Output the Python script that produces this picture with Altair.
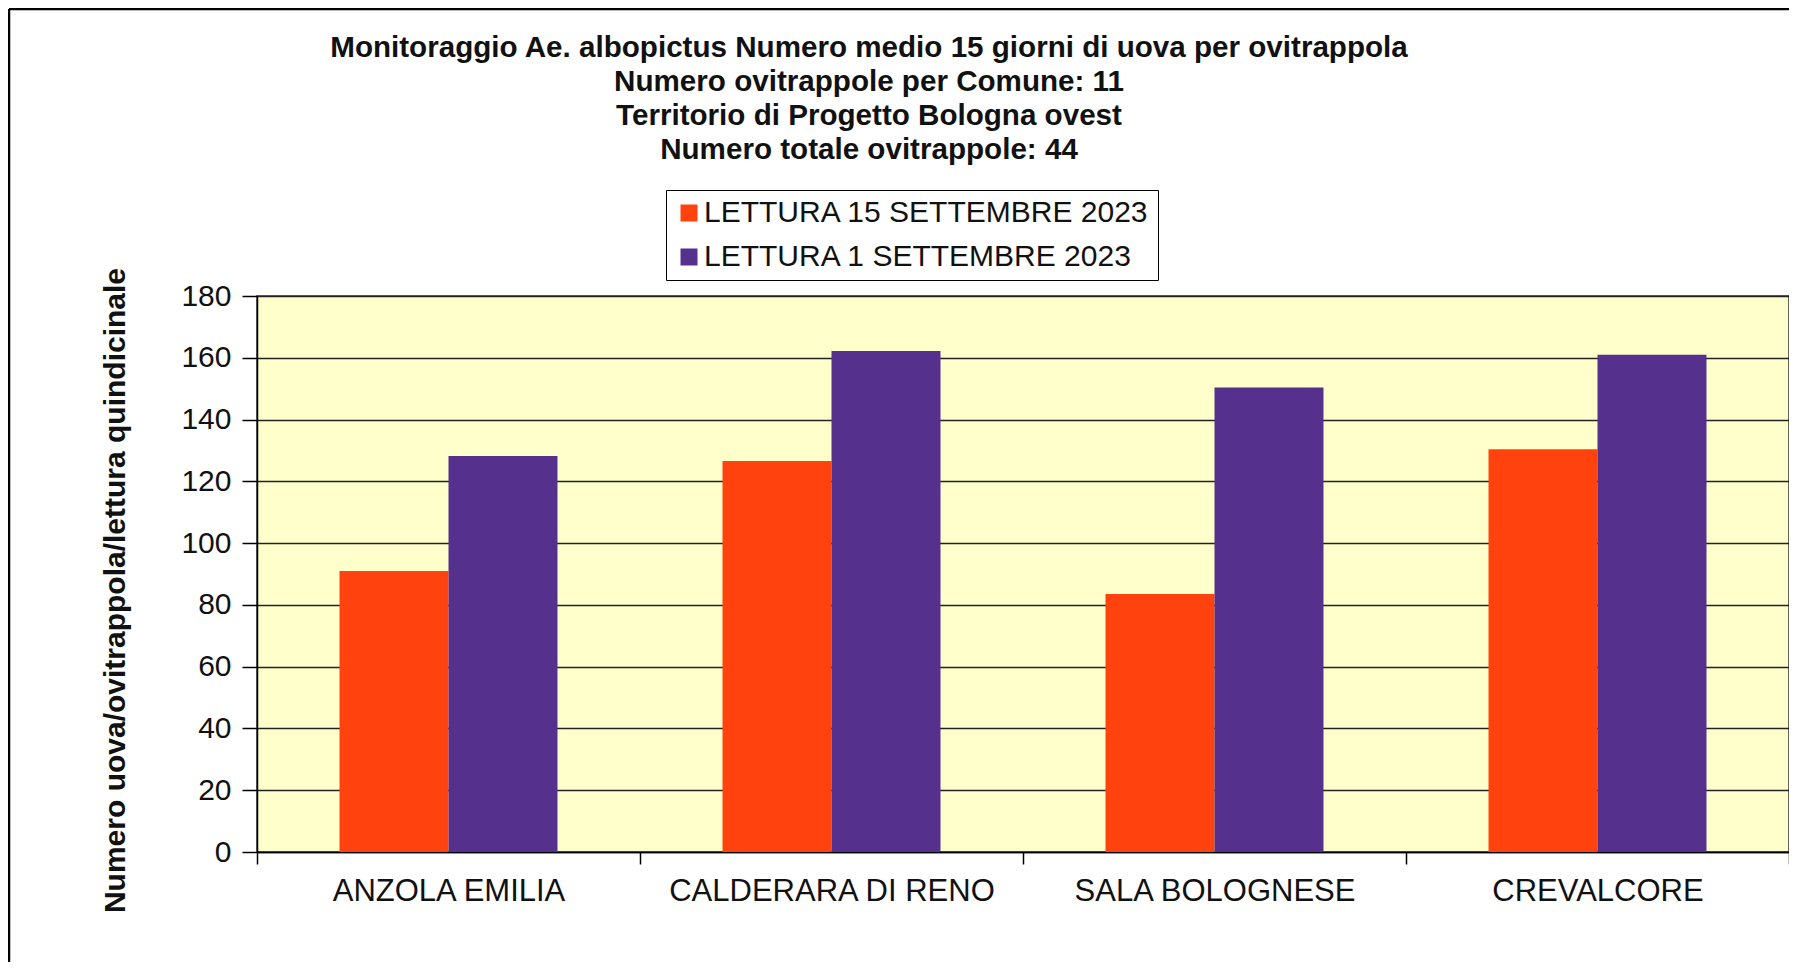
import altair as alt
import pandas as pd

comuni = ["ANZOLA EMILIA", "CALDERARA DI RENO", "SALA BOLOGNESE", "CREVALCORE"]
serie = ["LETTURA 15 SETTEMBRE 2023", "LETTURA 1 SETTEMBRE 2023"]
lettura_15_set = [91.0, 126.6, 83.5, 130.4]
lettura_1_set = [128.2, 162.2, 150.4, 161.0]
colori = ["#FF420E", "#55308D"]
y_ticks = [0, 20, 40, 60, 80, 100, 120, 140, 160, 180]
titolo = [
    "Monitoraggio Ae. albopictus Numero medio 15 giorni di uova per ovitrappola",
    "Numero ovitrappole per Comune: 11",
    "Territorio di Progetto Bologna ovest",
    "Numero totale ovitrappole: 44",
]
y_titolo = "Numero uova/ovitrappola/lettura quindicinale"

rows = []
for i, c in enumerate(comuni):
    rows.append({"comune": c, "serie": serie[0], "valore": lettura_15_set[i]})
    rows.append({"comune": c, "serie": serie[1], "valore": lettura_1_set[i]})
df = pd.DataFrame(rows)

FONT = "Liberation Sans"
W, H = 1532, 556
PAD = {"left": 249, "top": 288, "right": 0, "bottom": 110}

bars = alt.Chart(df).mark_bar().encode(
    x=alt.X(
        "comune:N",
        sort=comuni,
        scale=alt.Scale(paddingInner=0, paddingOuter=0),
        axis=alt.Axis(
            title=None, labelAngle=0, tickBand="extent", grid=False,
            domainColor="black", domainWidth=1.5, tickColor="black", tickWidth=1.5,
            tickSize=12, labelFontSize=31, labelPadding=12, labelColor="#111111",
            labelFont=FONT, labelLimit=800,
        ),
    ),
    xOffset=alt.XOffset(
        "serie:N", sort=serie,
        scale=alt.Scale(paddingOuter=0.757, paddingInner=0),
    ),
    y=alt.Y(
        "valore:Q",
        scale=alt.Scale(domain=[0, 180], nice=False),
        axis=alt.Axis(
            values=y_ticks, title=y_titolo, grid=True, gridColor="#222222",
            gridWidth=1.6, domainColor="black", domainWidth=1.5,
            tickColor="black", tickWidth=1.5, tickSize=15,
            labelFontSize=30, labelPadding=11, labelColor="#111111", labelFont=FONT,
            titleFontSize=30, titleFontWeight="bold", titleFont=FONT,
            titleColor="#111111", titleX=-142, titleY=294, titleBaseline="middle",
        ),
    ),
    color=alt.Color(
        "serie:N",
        sort=serie,
        scale=alt.Scale(domain=serie, range=colori),
        legend=alt.Legend(
            title=None, orient="none", legendX=409, legendY=-106,
            strokeColor="black", fillColor="white", padding=8,
            symbolType="square", symbolSize=289, symbolStrokeWidth=0,
            labelFontSize=30, labelFont=FONT, labelColor="#111111",
            labelLimit=800, rowPadding=14, labelOffset=0,
        ),
    ),
)

frame_data = pd.DataFrame({"k": [0]})
frame_top = alt.Chart(frame_data).mark_rule(color="black", strokeWidth=2.5).encode(
    x=alt.value(-PAD["left"] + 1), x2=alt.value(W), y=alt.value(-PAD["top"] + 1),
)
frame_left = alt.Chart(frame_data).mark_rule(color="black", strokeWidth=2.5).encode(
    x=alt.value(-PAD["left"] + 1), y=alt.value(-PAD["top"] + 1), y2=alt.value(H + PAD["bottom"]),
)

chart = alt.layer(bars, frame_top, frame_left).properties(
    width=W,
    height=H,
    title=alt.TitleParams(
        text=titolo, fontSize=29.6, font=FONT, fontWeight="bold", color="#111111",
        lineHeight=34, anchor="middle", dx=-154, offset=-158,
    ),
    autosize=alt.AutoSizeParams(type="none"),
    padding=PAD,
).configure_view(
    fill="#FFFFCC", stroke="#333333", strokeWidth=1.5,
)

chart.save("out.html", embed_options={"renderer": "svg", "actions": False})
